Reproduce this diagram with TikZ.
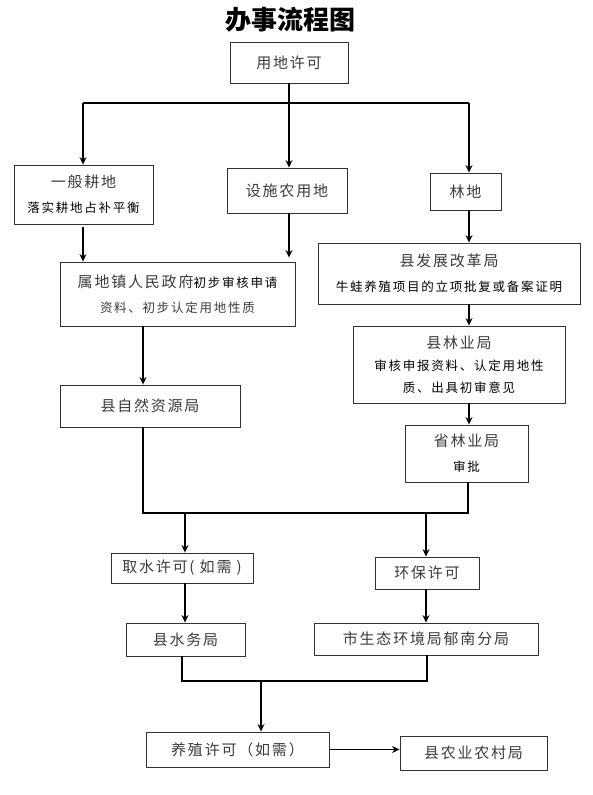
\documentclass[tikz,border=0pt]{standalone}
\usepackage{fontspec}
\setmainfont{Noto Sans CJK SC}
\usetikzlibrary{arrows.meta}
\definecolor{txt}{HTML}{3A3A3A}
\newcommand\mainsz{\fontsize{15}{25}\selectfont\addfontfeature{LetterSpace=12}}
\newcommand\subsz{\fontsize{12.5}{25}\selectfont\addfontfeature{LetterSpace=14}\color{black}}
\tikzset{
  box/.style={draw=black!80, line width=0.9pt, inner sep=0pt, align=center, text=txt, font=\mainsz},
  arr/.style={-{Stealth[length=7.5pt,width=7pt,inset=2.5pt]}, line width=1.2pt},
  ln/.style={line width=1.2pt}
}
\begin{document}
\begin{tikzpicture}[x=1pt,y=-1pt]
\useasboundingbox (0,0) rectangle (592,795);
\node[font=\fontsize{26}{30}\selectfont\bfseries] (title) at (290,20) {办事流程图};
\node[box, minimum width=118pt, minimum height=41pt] (yd) at (289,62.5) {用地许可};
\node[box, minimum width=139pt, minimum height=59pt] (gd) at (83.5,194.5) {一般耕地\\{\subsz 落实耕地占补平衡}};
\node[box, minimum width=120pt, minimum height=45pt] (ss) at (287,190.5) {设施农用地};
\node[box, minimum width=71pt, minimum height=37pt] (ld) at (465.5,191.5) {林地};
\node[box, minimum width=235pt, minimum height=64pt] (sd) at (177.5,294) {属地镇人民政府{\subsz 初步审核申请}\\{\subsz\color{txt} 资料、初步认定用地性质}};
\node[box, minimum width=262pt, minimum height=61pt] (fg) at (449,273.5) {县发展改革局\\{\subsz 牛蛙养殖项目的立项批复或备案证明}};
\node[box, minimum width=212pt, minimum height=77pt] (ly) at (459,364.5) {县林业局\\[-3pt]{\subsz 审核申报资料、认定用地性}\\[-3pt]{\subsz 质、出具初审意见}};
\node[box, minimum width=180pt, minimum height=42pt] (zr) at (150,406) {县自然资源局};
\node[box, minimum width=123pt, minimum height=57pt] (sl) at (466.5,453.5) {省林业局\\{\subsz 审批}};
\node[box, minimum width=142pt, minimum height=30pt] (qs) at (182,568) {取水许可( 如需 )};
\node[box, minimum width=104pt, minimum height=32pt] (hb) at (427,573) {环保许可};
\node[box, minimum width=119pt, minimum height=33pt] (sw) at (185.5,639.5) {县水务局};
\node[box, minimum width=224pt, minimum height=32pt] (st) at (426,639) {市生态环境局郁南分局};
\node[box, minimum width=183pt, minimum height=35pt] (yz) at (237.5,749.5) {养殖许可（如需）};
\node[box, minimum width=147pt, minimum height=34pt] (ny) at (473.5,753) {县农业农村局};
% junction points
\coordinate (j1) at (289,103);
\coordinate (jL) at (83,103);
\coordinate (jR) at (469,103);
\coordinate (cA) at (143,513);
\coordinate (cB) at (468,513);
\coordinate (qx) at (185,513);
\coordinate (hx) at (426,513);
\coordinate (cC) at (182,681);
\coordinate (cD) at (427,681);
\coordinate (cE) at (261,681);
% top branching
\draw[ln] (yd.south -| j1) -- (j1);
\draw[ln] (jL) -- (jR);
\draw[arr] (jL) -- (jL |- gd.north);
\draw[arr] (j1) -- (j1 |- ss.north);
\draw[arr] (jR) -- (jR |- ld.north);
% second level
\draw[arr] (jL |- gd.south) ++(0,3) -- (jL |- sd.north);
\draw[arr] (j1 |- ss.south) -- ([yshift=4pt]j1 |- sd.north);
\draw[arr] (jR |- ld.south) -- (jR |- fg.north);
\draw[arr] (jR |- fg.south) -- (jR |- ly.north);
\draw[arr] (jR |- ly.south) -- (jR |- sl.north);
\draw[arr] (cA |- sd.south) -- (cA |- zr.north);
% merge
\draw[ln] (cA |- zr.south) -- (cA) -- (cB) -- (cB |- sl.south);
\draw[arr] (qx) -- (qx |- qs.north);
\draw[arr] (hx) -- (hx |- hb.north);
\draw[arr] (qx |- qs.south) -- (qx |- sw.north);
\draw[arr] (hx |- hb.south) -- (hx |- st.north);
\draw[ln] (cC |- sw.south) -- (cC) -- (cD) -- (cD |- st.south);
\draw[arr] (cE) -- (cE |- yz.north);
\draw[arr] (yz.east) -- (yz.east -| ny.west);
\end{tikzpicture}
\end{document}
